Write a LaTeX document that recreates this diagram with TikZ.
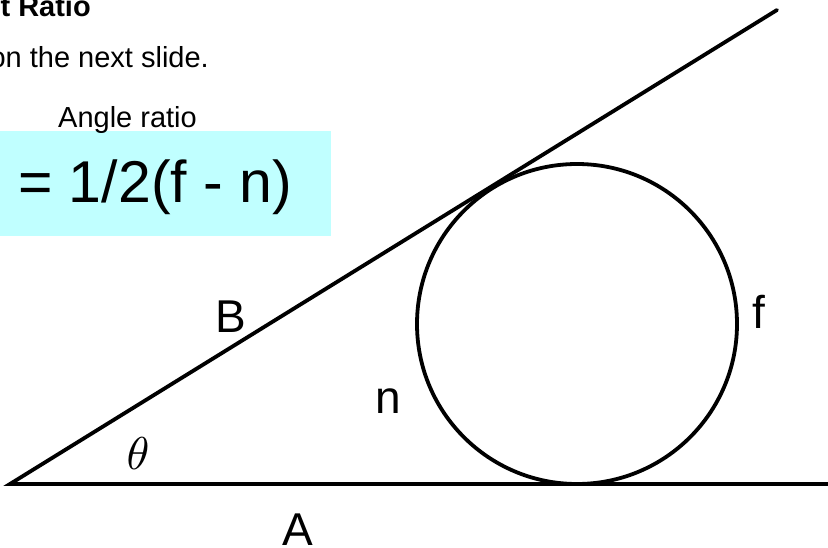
\documentclass[tikz,border=0pt]{standalone}
\usepackage{fontspec}
\setmainfont{Liberation Sans}
\definecolor{boxcyan}{HTML}{C0FFFF}
\begin{document}
\begin{tikzpicture}[x=1pt,y=-1pt,
  geo/.style={line width=3.8pt,line cap=round,black},
  lbl/.style={inner sep=0pt,anchor=base,font=\fontsize{46}{55}\selectfont},
  txt/.style={inner sep=0pt,font=\fontsize{29}{35}\selectfont}]
\useasboundingbox (0,0) rectangle (828,548);
\begin{scope}
\clip (0,0) rectangle (828,548);
% highlight box
\fill[boxcyan] (-5,131) rectangle (331,236);
\node[txt,anchor=base east,font=\fontsize{29}{35}\selectfont\bfseries] (title) at (91,17) {t Ratio};
\node[txt,anchor=base east] (sub) at (209,68) {on the next slide.};
\node[txt,anchor=base west] (angr) at (58,128) {Angle ratio};
\node[inner sep=0pt,anchor=base west,font=\fontsize{59}{70}\selectfont] (eq) at (18,203) {= 1/2(f - n)};
% geometry
\coordinate (O) at (10,484);
\coordinate (Aend) at (840,484);
\coordinate (Bend) at (777,10);
\coordinate (C) at (577,324);
\draw[geo,line cap=butt] (O) -- (Aend);
\draw[geo] (Aend) -- (O) -- (Bend);
\draw[geo] (C) circle[radius=160];
% labels
\node[lbl] (B) at (231,333) {B};
\node[lbl] (A) at (298,545) {A};
\node[lbl] (n) at (388,413) {n};
\node[lbl] (f) at (759,328) {f};
\node[inner sep=0pt,anchor=base,scale=4.6] (th) at (138,469) {$\theta$};
\end{scope}
\end{tikzpicture}
\end{document}
